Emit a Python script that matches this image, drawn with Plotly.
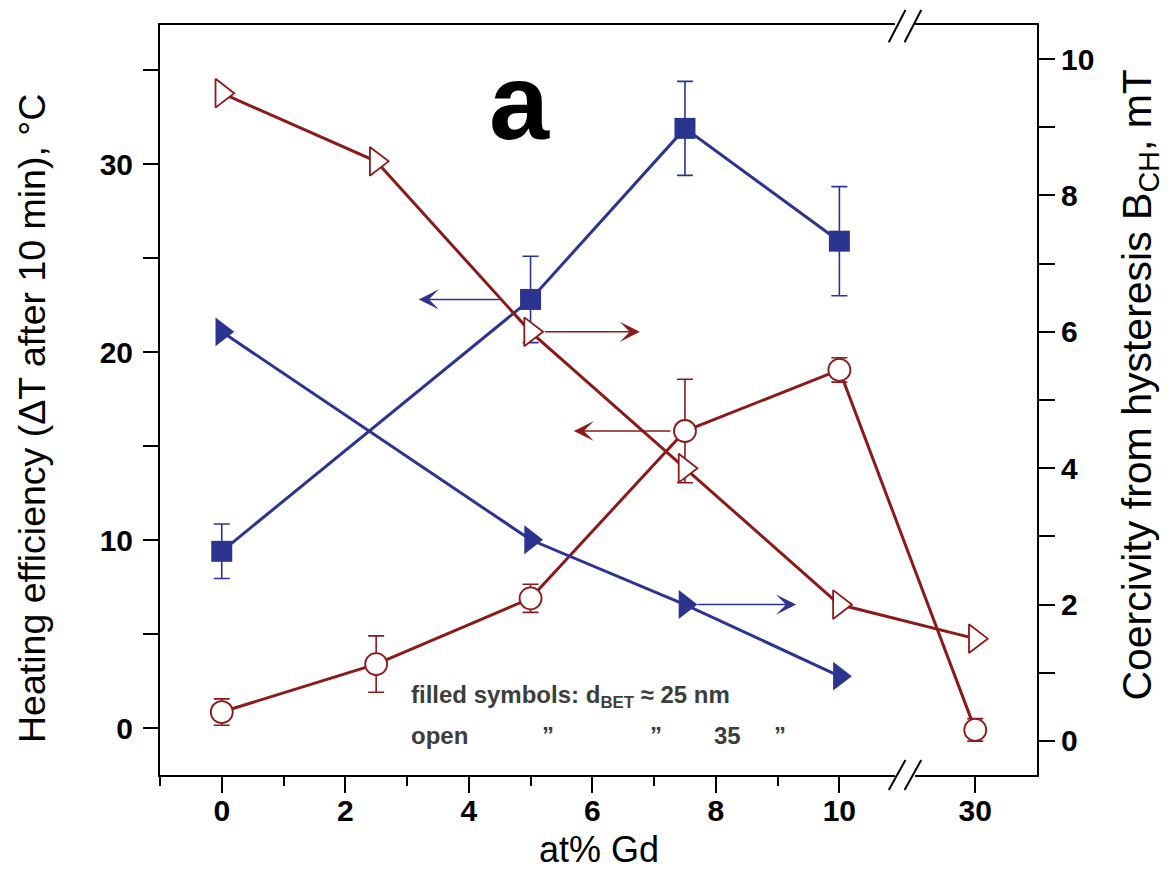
import plotly.graph_objects as go

# ---------------- data ----------------
gd_all = [0, 2.5, 5, 7.5, 10, 30]          # at% Gd, 35 nm samples
gd_25 = [0, 5, 7.5, 10]                    # at% Gd, 25 nm samples

heat_25 = [9.4, 22.8, 31.9, 25.9]          # heating efficiency, filled squares
heat_25_err = [1.45, 2.3, 2.5, 2.9]
heat_35 = [0.85, 3.4, 6.9, 15.8, 19.05, -0.1]   # heating efficiency, open circles
heat_35_err = [0.7, 1.5, 0.75, 2.75, 0.65, 0.6]
coer_25 = [6.0, 2.95, 2.0, 0.95]           # coercivity, filled triangles
coer_35 = [9.5, 8.5, 6.0, 4.0, 2.0, 1.5]   # coercivity, open triangles

x_tick_vals = [0, 2, 4, 6, 8, 10, 30]
x_tick_text = ["0", "2", "4", "6", "8", "10", "30"]
x_minor_vals = [-1, 1, 3, 5, 7, 9]

BLUE = "#2b3590"
RED = "#8b1a1a"
FONT = "Liberation Sans, Arial, sans-serif"


# broken x axis: 0..11 linear, then a short segment around 30
def brk(v):
    return v if v <= 11 else 12.2 + (v - 30)


def bx(vals):
    return [brk(v) for v in vals]


fig = go.Figure()

# filled squares: heating efficiency, 25 nm
fig.add_trace(go.Scatter(
    x=bx(gd_25), y=heat_25, mode="lines+markers", yaxis="y",
    line=dict(color=BLUE, width=3),
    marker=dict(symbol="square", size=21, color=BLUE),
    error_y=dict(type="data", array=heat_25_err, color=BLUE, thickness=1.6, width=8),
))
# open circles: heating efficiency, 35 nm
fig.add_trace(go.Scatter(
    x=bx(gd_all), y=heat_35, mode="lines+markers", yaxis="y",
    line=dict(color=RED, width=3),
    marker=dict(symbol="circle", size=22, color="white", line=dict(color=RED, width=1.8)),
    error_y=dict(type="data", array=heat_35_err, color=RED, thickness=1.6, width=8),
))
# filled triangles: coercivity, 25 nm
fig.add_trace(go.Scatter(
    x=bx(gd_25), y=coer_25, mode="lines+markers", yaxis="y2",
    line=dict(color=BLUE, width=3),
    marker=dict(symbol="triangle-right", size=25, color=BLUE),
))
# open triangles: coercivity, 35 nm
fig.add_trace(go.Scatter(
    x=bx(gd_all), y=coer_35, mode="lines+markers", yaxis="y2",
    line=dict(color=RED, width=3),
    marker=dict(symbol="triangle-right", size=25, color="white", line=dict(color=RED, width=1.8)),
))

axis_common = dict(
    showline=True, linewidth=2, linecolor="black", showgrid=False, zeroline=False,
    ticks="outside", tickwidth=2, tickcolor="black", automargin=False,
)

fig.update_layout(
    width=1171, height=874,
    margin=dict(l=160, r=134, t=25, b=99),
    paper_bgcolor="white", plot_bgcolor="white",
    showlegend=False,
    font=dict(family=FONT, color="black"),
    xaxis=dict(
        **axis_common, mirror=True,
        range=[-1, 13.2],
        tickmode="array", tickvals=bx(x_tick_vals), ticktext=x_tick_text, ticklen=16,
        tickfont=dict(size=30, family=FONT, weight="bold"), ticklabelstandoff=-8,
        minor=dict(tickmode="array", tickvals=x_minor_vals, ticklen=9, tickwidth=2,
                   tickcolor="black", showgrid=False, ticks="outside"),
    ),
    yaxis=dict(
        **axis_common,
        range=[-2.5, 37.4], tick0=0, dtick=10, ticklen=15,
        tickfont=dict(size=30, family=FONT, weight="bold"), ticklabelstandoff=4,
        minor=dict(dtick=5, tick0=0, ticklen=15, tickwidth=2, tickcolor="black",
                   showgrid=False, ticks="outside"),
    ),
    yaxis2=dict(
        **axis_common,
        overlaying="y", side="right",
        range=[-0.5, 10.5], tick0=0, dtick=2, ticklen=16,
        tickfont=dict(size=30, family=FONT, weight="bold"),
        minor=dict(dtick=1, tick0=0, ticklen=16, tickwidth=2, tickcolor="black",
                   showgrid=False, ticks="outside"),
    ),
)

# axis break marks
shapes = []
for yb, (ylo, yhi) in [(1.0, (0.977, 1.02)), (0.0, (-0.02, 0.02))]:
    shapes.append(dict(type="line", xref="paper", yref="paper", x0=0.838, x1=0.861,
                       y0=yb, y1=yb, line=dict(color="white", width=6)))
    for xs in (0.831, 0.849):
        shapes.append(dict(type="line", xref="paper", yref="paper", x0=xs, x1=xs + 0.019,
                           y0=ylo, y1=yhi, line=dict(color="black", width=2)))
fig.update_layout(shapes=shapes)

ann = []
# axis titles
ann.append(dict(x=0.5, y=-0.0987, xref="paper", yref="paper",
                text="at% Gd", showarrow=False,
                font=dict(size=36, family=FONT, color="black"),
                xanchor="center", yanchor="middle"))
ann.append(dict(x=-0.146, y=0.476, xref="paper", yref="paper", textangle=-90,
                text="Heating efficiency (ΔT after 10 min), °C", showarrow=False,
                font=dict(size=37.5, family=FONT, color="black"),
                xanchor="center", yanchor="middle"))
ann.append(dict(x=1.117, y=0.52, xref="paper", yref="paper", textangle=-90,
                text="Coercivity from hysteresis B<sub>CH</sub>, mT", showarrow=False,
                font=dict(size=41, family=FONT, color="black"),
                xanchor="center", yanchor="middle"))
# direction arrows
arrow_specs = [
    (3.19, 4.52, heat_25[1], "y", BLUE),
    (6.77, 5.21, coer_35[2], "y2", RED),
    (5.70, 7.29, heat_35[3], "y", RED),
    (9.30, 7.68, coer_25[2], "y2", BLUE),
]
for xh, xt, yv, yr, col in arrow_specs:
    ann.append(dict(x=xh, y=yv, ax=xt, ay=yv, xref="x", yref=yr, axref="x", ayref=yr,
                    text="", showarrow=True, arrowhead=3, arrowsize=2.1, arrowwidth=1.6,
                    arrowcolor=col, standoff=0, startstandoff=0))
# panel label
ann.append(dict(x=0.41, y=0.898, xref="paper", yref="paper", text="a", showarrow=False,
                font=dict(size=108, family=FONT, weight="bold", color="black"),
                xanchor="center", yanchor="middle"))
# note text
NOTE = dict(size=24, family=FONT, weight="bold", color="#3d3d3d")
ann.append(dict(x=0.284, y=0.105, xref="paper", yref="paper",
                text="filled symbols: d<sub>BET</sub> ≈ 25 nm", showarrow=False,
                font=NOTE, xanchor="left", yanchor="middle"))
for xp, t in [(0.284, "open"), (0.433, "”"), (0.556, "”"), (0.629, "35"), (0.698, "”")]:
    ann.append(dict(x=xp, y=0.053, xref="paper", yref="paper", text=t, showarrow=False,
                    font=NOTE, xanchor="left", yanchor="middle"))
fig.update_layout(annotations=ann)

fig.write_html("out.html", config={"displayModeBar": False},
               post_script="document.body.style.margin='0';document.body.style.overflow='hidden';")
